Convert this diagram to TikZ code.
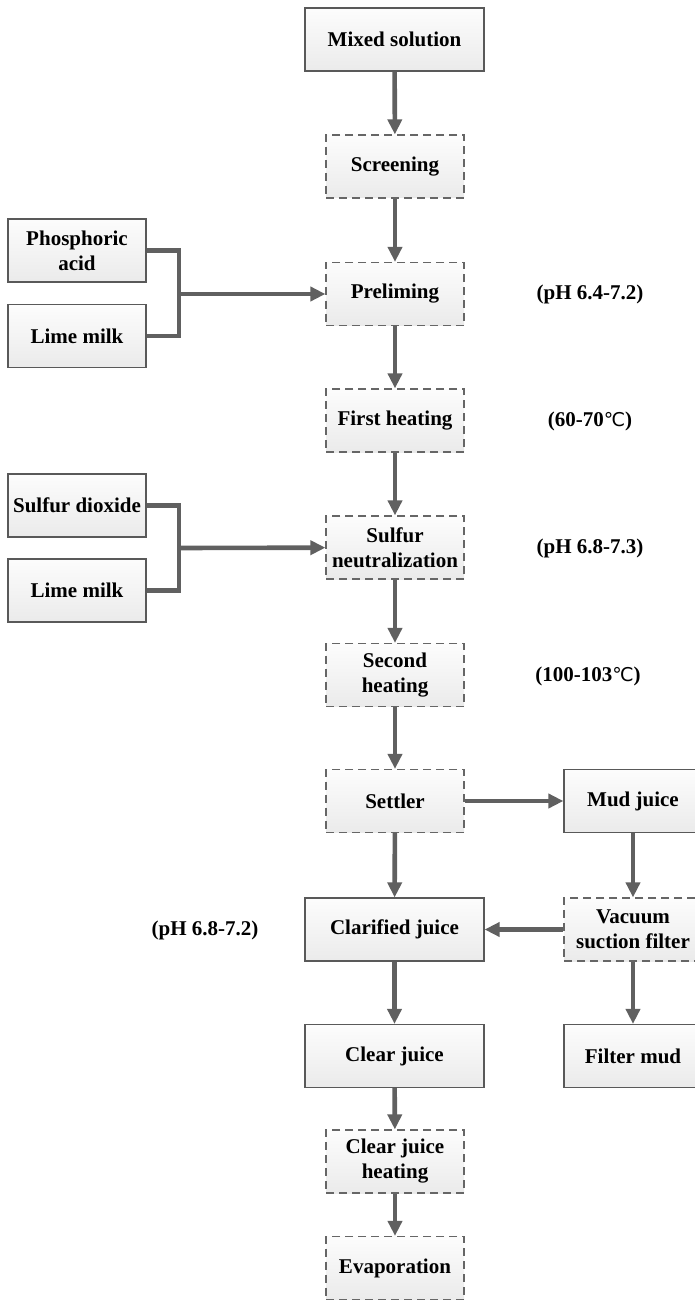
\documentclass[tikz,border=0pt]{standalone}
\usepackage{fontspec}
\setmainfont{Liberation Serif}
\newfontfamily\symfont{DejaVu Sans}
\usetikzlibrary{arrows.meta}
\newcommand{\degC}{{\symfont\mdseries\fontsize{9.5pt}{9.5pt}\selectfont ℃}}

\begin{document}
\begin{tikzpicture}[x=0.5pt, y=-0.5pt,
    every node/.style={font=\bfseries\fontsize{10.5pt}{12.5pt}\selectfont},
    procbox/.style={draw=gray!70!black, line width=0.6pt, top color=gray!2, bottom color=gray!16, align=center, inner sep=1pt, minimum height=31.5pt},
    solidbox/.style={procbox, minimum width=89.5pt},
    sidebox/.style={procbox, minimum width=69pt},
    dashbox/.style={procbox, dashed, draw=gray!80!black, dash pattern=on 4pt off 2.5pt, minimum width=69pt},
    flow/.style={draw=gray!75!black, line width=2.3pt, -{Triangle[length=7.5pt, width=7pt]}},
    feed/.style={draw=gray!75!black, line width=2.3pt}]
        \useasboundingbox (0,0) rectangle (695,1300);
        \clip (0,0) rectangle (695,1300);

        \node[solidbox](mixed) at (394.5,39.5) {Mixed solution};
        \node[dashbox](screening) at (395,166.5) {Screening};
        \node[dashbox](preliming) at (395,294) {Preliming};
        \node[dashbox](firstheat) at (395,420.5) {First heating};
        \node[dashbox](sulfurneut) at (395,547.5) {Sulfur\\neutralization};
        \node[dashbox](secondheat) at (395,675) {Second\\heating};
        \node[dashbox](settler) at (395,801) {Settler};
        \node[solidbox](clarified) at (394.5,929.5) {Clarified juice};
        \node[solidbox](clear) at (394.5,1056) {Clear juice};
        \node[dashbox](clearheat) at (395,1161.5) {Clear juice\\heating};
        \node[dashbox](evap) at (395,1268) {Evaporation};

        \node[sidebox](phosacid) at (77,250.5) {Phosphoric\\acid};
        \node[sidebox](limeA) at (77,336) {Lime milk};
        \node[sidebox](sulfdiox) at (77,505.5) {Sulfur dioxide};
        \node[sidebox](limeB) at (77,590.5) {Lime milk};

        \node[sidebox](mud) at (633,801) {Mud juice};
        \node[dashbox](vacuum) at (633,929.5) {Vacuum\\suction filter};
        \node[sidebox](filtermud) at (633,1056) {Filter mud};

        \node(phA) at (590,294) {(pH 6.4-7.2)};
        \node(tempA) at (590,421) {(60-70\degC)};
        \node(phB) at (590,548) {(pH 6.8-7.3)};
        \node(tempB) at (588,676) {(100-103\degC)};
        \node(phC) at (205,930) {(pH 6.8-7.2)};

        \coordinate (joinA) at (179,294);
        \coordinate (joinB) at (179,548);

        \draw[flow] (mixed) -- (screening);
        \draw[flow] (screening) -- (preliming);
        \draw[flow] (preliming) -- (firstheat);
        \draw[flow] (firstheat) -- (sulfurneut);
        \draw[flow] (sulfurneut) -- (secondheat);
        \draw[flow] (secondheat) -- (settler);
        \draw[flow] (settler) -- (clarified);
        \draw[flow] (clarified) -- (clear);
        \draw[flow] (clear) -- (clearheat);
        \draw[flow] (clearheat) -- (evap);

        \draw[feed] (phosacid) -| (joinA) |- (limeA);
        \draw[flow] (joinA) -- (preliming);
        \draw[feed] (sulfdiox) -| (joinB) |- (limeB);
        \draw[flow] (joinB) -- (sulfurneut);

        \draw[flow] (settler) -- (mud);
        \draw[flow] (mud) -- (vacuum);
        \draw[flow] (vacuum) -- (clarified);
        \draw[flow] (vacuum) -- (filtermud);
\end{tikzpicture}
\end{document}
